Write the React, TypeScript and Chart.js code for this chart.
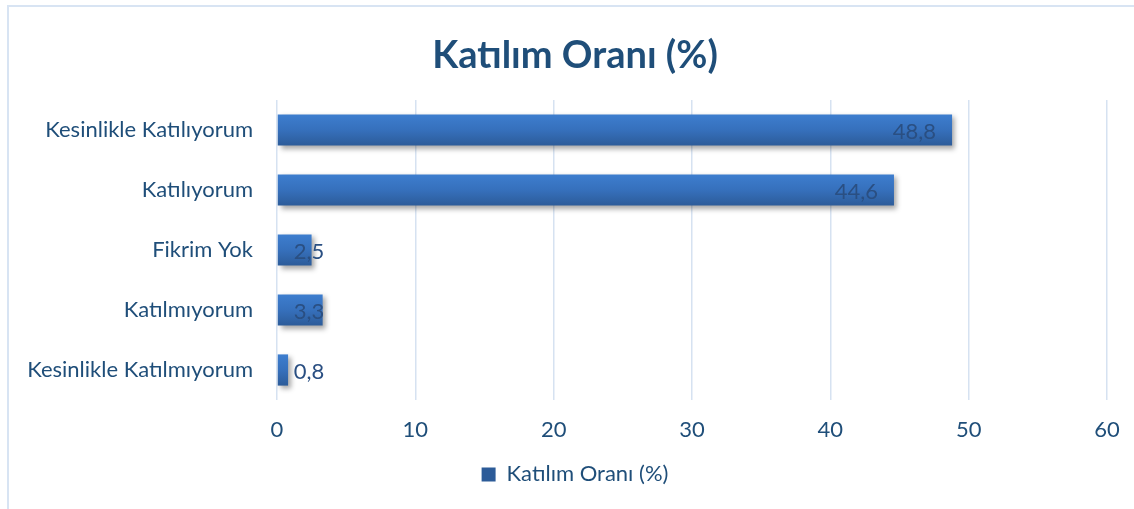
import React, { useEffect, useRef } from "react";
import { Chart, registerables } from "chart.js";

Chart.register(...registerables);

const categories = [
  "Kesinlikle Katılıyorum",
  "Katılıyorum",
  "Fikrim Yok",
  "Katılmıyorum",
  "Kesinlikle Katılmıyorum",
];
const values = [48.8, 44.6, 2.5, 3.3, 0.8];
const seriesName = "Katılım Oranı (%)";
const chartTitle = "Katılım Oranı (%)";
const xTicks = [0, 10, 20, 30, 40, 50, 60];

const FONT = "Lato";
const TEXT = "#1f4e79";

const shadowPlugin = {
  id: "barShadow",
  beforeDatasetDraw(chart: any) {
    const ctx = chart.ctx;
    ctx.save();
    ctx.shadowColor = "rgba(0,0,0,0.35)";
    ctx.shadowBlur = 5;
    ctx.shadowOffsetX = 3;
    ctx.shadowOffsetY = 3;
  },
  afterDatasetDraw(chart: any) {
    chart.ctx.restore();
  },
};

const labelPlugin = {
  id: "valueLabels",
  afterDatasetsDraw(chart: any) {
    const ctx = chart.ctx;
    const meta = chart.getDatasetMeta(0);
    ctx.save();
    ctx.font = `22px ${FONT}`;
    ctx.fillStyle = "#2a4f82";
    ctx.textBaseline = "middle";
    ctx.textAlign = "left";
    meta.data.forEach((bar: any, i: number) => {
      const text = values[i].toFixed(1).replace(".", ",");
      const w = ctx.measureText(text).width;
      let x = bar.x - 16 - w;
      if (x < bar.base + 16) x = bar.base + 16;
      ctx.fillText(text, x, bar.y + 2);
    });
    ctx.restore();
  },
};

export default function App() {
  const ref = useRef<HTMLCanvasElement | null>(null);

  useEffect(() => {
    if (!ref.current) return;
    const chart = new Chart(ref.current, {
      type: "bar",
      data: {
        labels: categories,
        datasets: [
          {
            label: seriesName,
            data: values,
            borderWidth: 0,
            barPercentage: 0.52,
            categoryPercentage: 1,
            backgroundColor: (c: any) => {
              const ch = c.chart;
              if (c.dataIndex === undefined || !ch.chartArea || !ch.scales.y) return "#3570bd";
              const y = ch.scales.y.getPixelForValue(c.dataIndex);
              const h = 16;
              const g = ch.ctx.createLinearGradient(0, y - h, 0, y + h);
              g.addColorStop(0, "#3e7ecf");
              g.addColorStop(0.5, "#3670bc");
              g.addColorStop(1, "#2c5b98");
              return g;
            },
          },
        ],
      },
      options: {
        indexAxis: "y",
        responsive: false,
        animation: false,
        devicePixelRatio: 1,
        layout: { padding: { left: 16, right: 0, top: 10, bottom: 13.6 } },
        plugins: {
          title: {
            display: true,
            text: chartTitle,
            color: TEXT,
            font: { family: FONT, size: 38, weight: "bold" },
            padding: { top: 23, bottom: 21.4 },
          },
          legend: {
            position: "bottom",
            labels: {
              color: TEXT,
              font: { family: FONT, size: 22 },
              boxWidth: 14,
              boxHeight: 14,
              padding: 3,
            },
          },
          tooltip: { enabled: false },
        },
        scales: {
          x: {
            min: 0,
            max: 60,
            afterBuildTicks: (s: any) => {
              s.ticks = xTicks.map((v) => ({ value: v }));
            },
            afterFit: (s: any) => {
              s.paddingRight = 27;
            },
            grid: { color: "#d6e2f1", lineWidth: 1.5, drawTicks: false },
            border: { display: false },
            ticks: {
              color: TEXT,
              font: { family: FONT, size: 22 },
              padding: 17,
            },
          },
          y: {
            afterFit: (s: any) => {
              s.width = 261;
            },
            grid: { display: false, drawTicks: false },
            border: { display: false },
            ticks: {
              color: TEXT,
              font: { family: FONT, size: 22 },
              padding: 24,
            },
          },
        },
      },
      plugins: [shadowPlugin, labelPlugin],
    } as any);
    return () => chart.destroy();
  }, []);

  return (
    <div style={{ position: "absolute", left: 0, top: 0, width: 1134, height: 509, background: "#fff" }}>
      <div style={{ position: "absolute", left: 7, top: 5, width: 1127, height: 2, background: "#d8e4f3" }} />
      <div style={{ position: "absolute", left: 7, top: 5, width: 2, height: 504, background: "#d8e4f3" }} />
      <canvas
        ref={ref}
        width={1134}
        height={509}
        style={{ position: "absolute", left: 0, top: 0, width: 1134, height: 509, display: "block" }}
      />
    </div>
  );
}
